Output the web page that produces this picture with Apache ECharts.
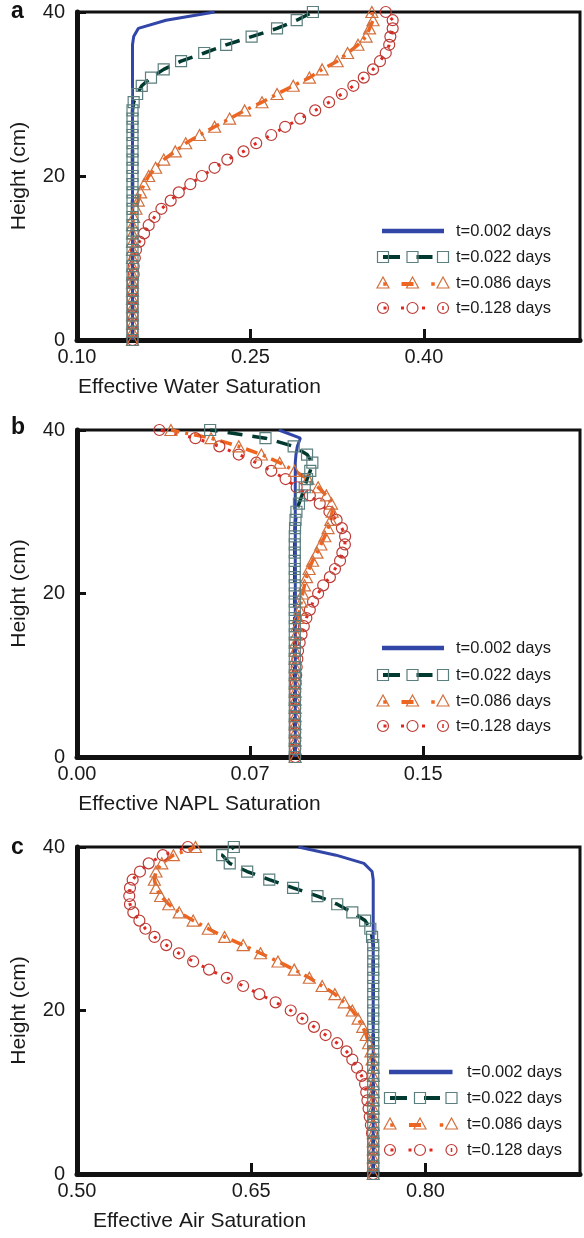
<!DOCTYPE html>
<html>
<head>
<meta charset="utf-8">
<script src="https://cdn.jsdelivr.net/npm/echarts@6/dist/echarts.min.js"></script>
<style>
  html, body { margin: 0; padding: 0; background: #ffffff; }
  #chart { width: 584px; height: 1238px; }
</style>
</head>
<body>
<div id="chart"></div>
<script>
// Column height of each computational node (cm)
const heights = [0, 1, 2, 3, 4, 5, 6, 7, 8, 9, 10, 11, 12, 13, 14, 15, 16, 17, 18, 19, 20,
  21, 22, 23, 24, 25, 26, 27, 28, 29, 30, 31, 32, 33, 34, 35, 36, 37, 38, 39, 40];

const seriesNames = ['t=0.002 days', 't=0.022 days', 't=0.086 days', 't=0.128 days'];

// (a) effective water saturation profiles
const waterT002 = [0.148, 0.148, 0.148, 0.148, 0.148, 0.148, 0.148, 0.148, 0.148, 0.148, 0.148,
  0.148, 0.148, 0.148, 0.148, 0.148, 0.148, 0.148, 0.148, 0.148, 0.148, 0.148, 0.148, 0.148,
  0.148, 0.148, 0.148, 0.148, 0.148, 0.148, 0.148, 0.148, 0.148, 0.148, 0.148, 0.148, 0.148,
  0.149, 0.153, 0.177, 0.219];
const waterT022 = [0.148, 0.148, 0.148, 0.148, 0.148, 0.148, 0.148, 0.148, 0.148, 0.148, 0.148,
  0.148, 0.148, 0.148, 0.148, 0.148, 0.148, 0.148, 0.148, 0.148, 0.148, 0.148, 0.148, 0.148,
  0.148, 0.148, 0.148, 0.148, 0.148, 0.149, 0.152, 0.156, 0.164, 0.175, 0.190, 0.210, 0.229,
  0.251, 0.273, 0.290, 0.304];
const waterT086 = [0.148, 0.148, 0.148, 0.148, 0.148, 0.148, 0.148, 0.148, 0.148, 0.148, 0.148,
  0.148, 0.148, 0.148, 0.148, 0.149, 0.151, 0.153, 0.155, 0.158, 0.162, 0.168, 0.175, 0.185,
  0.194, 0.206, 0.219, 0.232, 0.245, 0.260, 0.273, 0.287, 0.301, 0.312, 0.325, 0.334, 0.343,
  0.350, 0.353, 0.356, 0.355];
const waterT128 = [0.148, 0.148, 0.148, 0.148, 0.148, 0.148, 0.148, 0.148, 0.149, 0.149, 0.150,
  0.151, 0.154, 0.158, 0.162, 0.167, 0.173, 0.181, 0.188, 0.198, 0.208, 0.219, 0.230, 0.244,
  0.255, 0.268, 0.280, 0.293, 0.306, 0.318, 0.329, 0.339, 0.348, 0.356, 0.362, 0.367, 0.370,
  0.371, 0.373, 0.373, 0.367];

// (b) effective NAPL saturation profiles
const naplT002 = [0.0946, 0.0946, 0.0946, 0.0946, 0.0946, 0.0946, 0.0946, 0.0946, 0.0946, 0.0946,
  0.0946, 0.0946, 0.0946, 0.0946, 0.0946, 0.0946, 0.0946, 0.0946, 0.0946, 0.0946, 0.0946,
  0.0946, 0.0946, 0.0946, 0.0946, 0.0946, 0.0946, 0.0946, 0.0946, 0.0946, 0.0946, 0.0946,
  0.0946, 0.0946, 0.0946, 0.0946, 0.0946, 0.0949, 0.0955, 0.0968, 0.0875];
const naplT022 = [0.0944, 0.0944, 0.0944, 0.0944, 0.0944, 0.0944, 0.0944, 0.0944, 0.0944, 0.0944,
  0.0944, 0.0944, 0.0944, 0.0944, 0.0944, 0.0944, 0.0944, 0.0944, 0.0944, 0.0944, 0.0944,
  0.0944, 0.0944, 0.0944, 0.0944, 0.0944, 0.0944, 0.0944, 0.0945, 0.0947, 0.0951, 0.0962,
  0.0975, 0.0987, 0.0997, 0.1011, 0.1020, 0.0997, 0.0939, 0.0817, 0.0577];
const naplT086 = [0.0946, 0.0946, 0.0946, 0.0946, 0.0946, 0.0946, 0.0946, 0.0946, 0.0946, 0.0946,
  0.0946, 0.0946, 0.0946, 0.0946, 0.0948, 0.0950, 0.0953, 0.0958, 0.0965, 0.0972, 0.0978,
  0.0986, 0.0995, 0.1006, 0.1021, 0.1040, 0.1057, 0.1074, 0.1088, 0.1100, 0.1106, 0.1103,
  0.1081, 0.1045, 0.1001, 0.0943, 0.0878, 0.0799, 0.0701, 0.0581, 0.0407];
const naplT128 = [0.0946, 0.0946, 0.0946, 0.0946, 0.0946, 0.0946, 0.0946, 0.0946, 0.0946, 0.0948,
  0.0950, 0.0952, 0.0955, 0.0958, 0.0965, 0.0973, 0.0983, 0.0994, 0.1009, 0.1023, 0.1045,
  0.1067, 0.1096, 0.1118, 0.1140, 0.1150, 0.1161, 0.1162, 0.1148, 0.1125, 0.1094, 0.1052,
  0.1009, 0.0952, 0.0904, 0.0842, 0.0777, 0.0701, 0.0617, 0.0513, 0.0357];

// (c) effective air saturation profiles
const airT002 = [0.755, 0.755, 0.755, 0.755, 0.755, 0.755, 0.755, 0.755, 0.755, 0.755, 0.755,
  0.755, 0.755, 0.755, 0.755, 0.755, 0.755, 0.755, 0.755, 0.755, 0.755, 0.755, 0.755, 0.755,
  0.755, 0.755, 0.755, 0.755, 0.755, 0.755, 0.755, 0.755, 0.755, 0.755, 0.755, 0.755, 0.7550,
  0.754, 0.747, 0.723, 0.6906];
const airT022 = [0.755, 0.755, 0.755, 0.755, 0.755, 0.755, 0.755, 0.755, 0.755, 0.755, 0.755,
  0.755, 0.755, 0.755, 0.755, 0.755, 0.755, 0.755, 0.755, 0.755, 0.755, 0.755, 0.755, 0.755,
  0.755, 0.755, 0.755, 0.755, 0.755, 0.754, 0.7525, 0.748, 0.737, 0.724, 0.707, 0.686, 0.6655,
  0.6465, 0.6315, 0.625, 0.635];
const airT086 = [0.755, 0.755, 0.755, 0.755, 0.755, 0.755, 0.755, 0.755, 0.755, 0.755, 0.755,
  0.755, 0.755, 0.755, 0.754, 0.753, 0.751, 0.749, 0.746, 0.742, 0.737, 0.730, 0.722, 0.711,
  0.700, 0.687, 0.673, 0.658, 0.643, 0.627, 0.613, 0.600, 0.588, 0.579, 0.572, 0.568, 0.5666,
  0.568, 0.573, 0.583, 0.602];
const airT128 = [0.755, 0.755, 0.755, 0.755, 0.755, 0.754, 0.753, 0.752, 0.751, 0.750, 0.749,
  0.748, 0.745, 0.741, 0.737, 0.732, 0.724, 0.714, 0.704, 0.694, 0.684, 0.671, 0.657, 0.643,
  0.629, 0.6137, 0.600, 0.5877, 0.5768, 0.5667, 0.5589, 0.5537, 0.5485, 0.5456, 0.545, 0.5456,
  0.5479, 0.5542, 0.5617, 0.5738, 0.5954];

// Axis ticks and their printed labels
const xTicksWater = [0.10, 0.25, 0.40];
const xLabelsWater = ['0.10', '0.25', '0.40'];
const xTicksNapl = [0.0, 0.075, 0.15];
const xLabelsNapl = ['0.00', '0.07', '0.15'];
const xTicksAir = [0.50, 0.65, 0.80];
const xLabelsAir = ['0.50', '0.65', '0.80'];
const yTickInterval = 20;

const FONT = '"Liberation Sans", Arial, Helvetica, sans-serif';
const INK = '#1a1a1a';

// Line / marker styling for the four time levels
const styles = [
  { line: '#3246a8', width: 3, dash: 'solid', symbol: 'none' },
  { line: '#00392f', width: 3.5, dash: [15, 10], symbol: 'rect', size: [11, 11], stroke: '#5b7f7e' },
  { line: '#f0641e', width: 3.5, dash: [12, 6, 3, 6], symbol: 'triangle', size: [12, 11], stroke: '#d2703e' },
  { line: '#e2271f', width: 3, dash: [3, 11], symbol: 'circle', size: 11, stroke: '#bd3b35' }
];

const panels = [
  { letter: 'a', letterY: 12, top: 12, height: 328, min: 0.10, max: 0.535, ticks: xTicksWater, labels: xLabelsWater,
    title: 'Effective Water Saturation', profiles: [waterT002, waterT022, waterT086, waterT128],
    legend: { cx: [383, 412.5, 443], rows: [231, 257, 283, 308], textX: 456 } },
  { letter: 'b', letterY: 428, top: 430, height: 327, min: 0.0, max: 0.218, ticks: xTicksNapl, labels: xLabelsNapl,
    title: 'Effective NAPL Saturation', profiles: [naplT002, naplT022, naplT086, naplT128],
    legend: { cx: [383, 412.5, 443], rows: [648, 675, 701, 726], textX: 456 } },
  { letter: 'c', letterY: 848, top: 847, height: 327, min: 0.50, max: 0.933, ticks: xTicksAir, labels: xLabelsAir,
    title: 'Effective Air Saturation', profiles: [airT002, airT022, airT086, airT128],
    legend: { cx: [390, 420, 451.5], rows: [1072, 1098, 1124, 1150], textX: 467 } }
];

const GRID_LEFT = 77;
const GRID_RIGHT = 4;

const grids = [], xAxes = [], yAxes = [], series = [], graphics = [];

panels.forEach((p, pi) => {
  grids.push({
    left: GRID_LEFT, right: GRID_RIGHT, top: p.top, height: p.height,
    show: true, borderColor: '#111', borderWidth: 3, backgroundColor: 'transparent'
  });

  const pickLabel = (v) => {
    const k = p.ticks.findIndex(t => Math.abs(t - v) < 1e-9);
    return k >= 0 ? p.labels[k] : '';
  };

  xAxes.push({
    gridIndex: pi, type: 'value', min: p.min, max: p.max,
    axisLine: { show: true, onZero: false, lineStyle: { color: '#111', width: 5 } },
    axisTick: { show: true, inside: true, length: 11, customValues: p.ticks,
      lineStyle: { color: '#111', width: 3 } },
    axisLabel: { show: true, customValues: p.ticks, formatter: pickLabel, margin: 7,
      fontSize: 20, fontFamily: FONT, color: INK },
    splitLine: { show: false },
    name: p.title, nameLocation: 'middle', nameGap: 37,
    nameTextStyle: { fontSize: 21, fontFamily: FONT, color: INK, padding: [0, 258, 0, 0] }
  });

  yAxes.push({
    gridIndex: pi, type: 'value', min: 0, max: 40, interval: yTickInterval,
    axisLine: { show: true, onZero: false, lineStyle: { color: '#111', width: 5 } },
    axisTick: { show: true, inside: true, length: 9, lineStyle: { color: '#111', width: 3 } },
    axisLabel: { margin: 12, fontSize: 20, fontFamily: FONT, color: INK },
    splitLine: { show: false },
    name: 'Height (cm)', nameLocation: 'middle', nameGap: 47,
    nameTextStyle: { fontSize: 21, fontFamily: FONT, color: INK }
  });

  // draw order: circles, triangles, squares, then the solid line on top
  [3, 2, 1, 0].forEach(si => {
    const st = styles[si];
    const vals = p.profiles[si];
    series.push({
      type: 'line', name: seriesNames[si],
      xAxisIndex: pi, yAxisIndex: pi,
      data: heights.map((h, i) => [vals[i], h]),
      symbol: st.symbol, symbolSize: st.size || 0, showSymbol: st.symbol !== 'none',
      lineStyle: { color: st.line, width: st.width, type: st.dash, cap: 'butt' },
      itemStyle: { color: 'rgba(0,0,0,0)', borderColor: st.stroke || st.line, borderWidth: 1.2 },
      emphasis: { disabled: true },
      silent: true, clip: true, animation: false
    });
  });

  // panel letter
  graphics.push({
    type: 'text', x: 11, y: p.letterY,
    style: { text: p.letter, fill: '#111', font: 'bold 23px ' + FONT,
      verticalAlign: 'middle', align: 'left' },
    z: 100
  });

  // legend: key samples plus text labels
  const L = p.legend, [c1, c2, c3] = L.cx, r = L.rows;
  const seg = (x1, x2, y, color, w) => ({ type: 'line', shape: { x1, y1: y, x2, y2: y },
    style: { stroke: color, lineWidth: w }, z: 100 });
  const dot = (x, y, color, w, h) => ({ type: 'rect', shape: { x: x - w / 2, y: y - h / 2, width: w, height: h },
    style: { fill: color }, z: 100 });
  const sq = (x, y) => ({ type: 'rect', shape: { x: x - 5.5, y: y - 5.5, width: 11, height: 11 },
    style: { fill: 'none', stroke: styles[1].stroke, lineWidth: 1.2 }, z: 101 });
  const tri = (x, y) => ({ type: 'polygon', shape: { points: [[x, y - 6], [x - 6, y + 5], [x + 6, y + 5]] },
    style: { fill: 'none', stroke: styles[2].stroke, lineWidth: 1.2 }, z: 101 });
  const circ = (x, y) => ({ type: 'circle', shape: { cx: x, cy: y, r: 5.5 },
    style: { fill: 'none', stroke: styles[3].stroke, lineWidth: 1.2 }, z: 101 });

  graphics.push(seg(c1 - 1, c3 + 1, r[0], styles[0].line, 4.5));

  graphics.push(seg(c1, c1 + 17, r[1], styles[1].line, 4));
  graphics.push(seg(c2 + 4, c2 + 20, r[1], styles[1].line, 4));
  [c1, c2, c3].forEach(x => graphics.push(sq(x, r[1])));

  graphics.push(dot(c1 + 2, r[2] + 1, styles[2].line, 3.5, 3.5));
  graphics.push(seg(c2 - 11, c2 + 1, r[2] + 1, styles[2].line, 4));
  graphics.push(dot(c3 - 10, r[2] + 1, styles[2].line, 3.5, 3.5));
  [c1, c2, c3].forEach(x => graphics.push(tri(x, r[2])));

  graphics.push(dot(c1 + 2, r[3], styles[3].line, 3, 3));
  graphics.push(dot(c2 - 10, r[3], styles[3].line, 3, 3));
  graphics.push(dot(c2 + 11, r[3], styles[3].line, 3, 3));
  graphics.push(dot(c3, r[3], styles[3].line, 1.5, 4));
  [c1, c2, c3].forEach(x => graphics.push(circ(x, r[3])));

  seriesNames.forEach((name, k) => {
    graphics.push({
      type: 'text', x: L.textX, y: r[k],
      style: { text: name, fill: INK, font: '16.5px ' + FONT, verticalAlign: 'middle', align: 'left' },
      z: 100
    });
  });
});

const chart = echarts.init(document.getElementById('chart'), null, { renderer: 'canvas' });
chart.setOption({
  animation: false,
  backgroundColor: '#ffffff',
  textStyle: { fontFamily: FONT },
  grid: grids,
  xAxis: xAxes,
  yAxis: yAxes,
  series: series,
  graphic: { elements: graphics }
});
</script>
</body>
</html>
